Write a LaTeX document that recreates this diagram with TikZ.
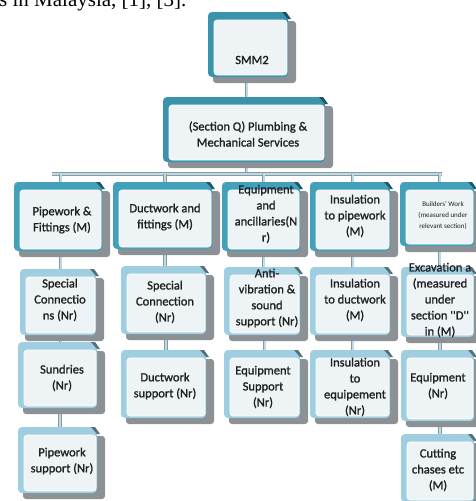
\documentclass[tikz,border=0pt]{standalone}
\usepackage{fontspec}
\setmainfont{Carlito}
\newfontfamily\boxfont{Carlito}[FakeBold=1.3]
\newfontfamily\capfont{Liberation Serif}
\definecolor{frameA}{HTML}{3A93AD}
\definecolor{frameB}{HTML}{42A0BB}
\definecolor{frameC}{HTML}{9FCEE0}
\definecolor{innerc}{HTML}{EEF4F6}
\definecolor{shadc}{HTML}{8B9195}
\definecolor{txtc}{HTML}{202020}
\definecolor{conng}{HTML}{8E989C}
\definecolor{connb}{HTML}{B8DCE8}
\pgfdeclarelayer{lbg}\pgfdeclarelayer{lconn}\pgfdeclarelayer{lshad}\pgfdeclarelayer{lfrm}
\pgfsetlayers{lbg,lconn,lshad,lfrm,main}
\tikzset{
  innerbox/.style={fill=innerc, draw=white, line width=0.6pt, rounded corners=3pt, inner sep=0pt},
  boxtext/.style={align=center, text=txtc, inner sep=0pt, font=\boxfont\fontsize{12.5}{16}\selectfont},
  smalltext/.style={align=center, text=txtc, inner sep=0pt, font=\fontsize{7}{11}\selectfont},
  conn/.style={draw=conng, double=connb, line width=0.8pt, double distance=2pt},
}
% name, X1, Y1, X2, Y2, frame colour, text position, text style, text
\newcommand\ebox[9]{%
  \pgfmathsetmacro\eax{#2+6}\pgfmathsetmacro\eay{#3+8}%
  \pgfmathsetmacro\ebx{#4-9}\pgfmathsetmacro\eby{#5-8}%
  \begin{pgfonlayer}{lshad}
    \fill[shadc,rounded corners=3pt] (#2+5,#3+9) rectangle (#4,#5);
  \end{pgfonlayer}
  \begin{pgfonlayer}{lfrm}
    \fill[#6,rounded corners=4pt] (#2,#3) rectangle (#4-8,#5-6);
    \fill[#6!55!black] (#4-14,#3) -- (#4-10,#3) -- (#4-5,#3+7) -- (#4-8,#3+7) -- cycle;
  \end{pgfonlayer}
  \node[innerbox, minimum width={(\ebx-\eax)*1pt}, minimum height={(\eby-\eay)*1pt}] (#1) at ({(\eax+\ebx)/2},{(\eay+\eby)/2}) {};
  \node[#8] (#1t) at (#7) {#9};
}
\begin{document}
\begin{tikzpicture}[x=1pt,y=-1pt]
\useasboundingbox (0,0) rectangle (476,501);
\begin{pgfonlayer}{lbg}
  \fill[white] (0,0) rectangle (476,501);
\end{pgfonlayer}
\node[anchor=base west, inner sep=0pt, font=\capfont\fontsize{21}{21}\selectfont] (cap) at (-1,6) {s in Malaysia, [1], [3].};

\ebox{smm}{208}{12}{296}{83}{frameA}{252,60}{boxtext}{SMM2}
\ebox{secq}{163}{97}{333}{168}{frameA}{248,134}{boxtext}{(Section Q) Plumbing \&\\Mechanical Services}

\ebox{pw}{14}{182}{110}{257}{frameB}{62,220}{boxtext}{Pipework \&\\Fittings (M)}
\ebox{dw}{113}{182}{220}{255}{frameB}{165,217}{boxtext}{Ductwork and\\fittings (M)}
\ebox{eq}{222}{182}{308}{257}{frameB}{266,214}{boxtext}{Equipment\\and\\ancillaries(N\\r)}
\ebox{ip}{310}{182}{398}{257}{frameB}{355,216}{boxtext}{Insulation\\to pipework\\(M)}
\ebox{bw}{400}{182}{482}{252}{frameB}{443,216}{smalltext}{Builders' Work\\(measured under\\relevant section)}

\ebox{sc}{20}{269}{104}{341}{frameC}{60,300}{boxtext}{Special\\Connectio\\ns (Nr)}
\ebox{scd}{121}{266}{214}{340}{frameC}{165,302}{boxtext}{Special\\Connection\\(Nr)}
\ebox{av}{224}{267}{308}{341}{frameC}{267,298}{boxtext}{Anti-\\vibration \&\\sound\\support (Nr)}
\ebox{id}{310}{267}{398}{341}{frameC}{355,300}{boxtext}{Insulation\\to ductwork\\(M)}
\ebox{ex}{401}{267}{482}{343}{frameC}{440,300}{boxtext}{Excavation a\\(measured\\under\\section ''D''\\in (M)}

\ebox{su}{18}{342}{105}{414}{frameC}{62,378}{boxtext}{Sundries\\(Nr)}
\ebox{ps}{18}{427}{105}{499}{frameC}{62,461}{boxtext}{Pipework\\support (Nr)}
\ebox{ds}{121}{350}{214}{424}{frameC}{165,386}{boxtext}{Ductwork\\support (Nr)}
\ebox{es}{224}{350}{308}{424}{frameC}{263,387}{boxtext}{Equipment\\Support\\(Nr)}
\ebox{ie}{310}{350}{398}{424}{frameC}{355,387}{boxtext}{Insulation\\to\\equipement\\(Nr)}
\ebox{en}{401}{350}{482}{427}{frameC}{438,386}{boxtext}{Equipment\\(Nr)}
\ebox{cc}{401}{434}{482}{508}{frameC}{438,470}{boxtext}{Cutting\\chases etc\\(M)}

\coordinate (busL) at (52,174);
\coordinate (busR) at (442,174);
\begin{pgfonlayer}{lconn}
  \draw[conn] (smm.south -| secq.north) -- (secq.north);
  \draw[conn] (secq.south) -- (secq.south |- busL);
  \draw[conn] (busL) -- (busR);
  \foreach \n in {pw,dw,eq,ip,bw} { \draw[conn] (busL -| \n.north) -- (\n.north); }
  \draw[conn] (pw.south) -- (pw.south |- sc.north);
  \draw[conn] (sc.south) -- (sc.south |- su.north);
  \draw[conn] (su.south) -- (su.south |- ps.north);
  \draw[conn] (dw.south) -- (dw.south |- scd.north);
  \draw[conn] (scd.south) -- (scd.south |- ds.north);
  \draw[conn] (eq.south) -- (eq.south |- av.north);
  \draw[conn] (av.south) -- (av.south |- es.north);
  \draw[conn] (ip.south) -- (ip.south |- id.north);
  \draw[conn] (id.south) -- (id.south |- ie.north);
  \draw[conn] (bw.south) -- (bw.south |- ex.north);
  \draw[conn] (ex.south) -- (ex.south |- en.north);
  \draw[conn] (en.south) -- (en.south |- cc.north);
\end{pgfonlayer}
\end{tikzpicture}
\end{document}
